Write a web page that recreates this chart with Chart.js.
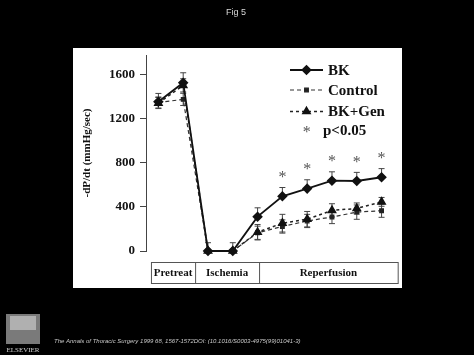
<!DOCTYPE html>
<html>
<head>
<meta charset="utf-8">
<script src="https://cdn.jsdelivr.net/npm/chart.js@4.4.1/dist/chart.umd.min.js"></script>
<style>
  html, body { margin: 0; padding: 0; background: #000; }
  #wrap { width: 474px; height: 355px; position: relative; }
</style>
</head>
<body>
<div id="wrap"><canvas id="c" width="474" height="355"></canvas></div>
<script>
// ---- data ----
const timePoints = [0, 1, 2, 3, 4, 5, 6, 7, 8, 9];
const bkValues      = [1352, 1524, 0, 0, 311, 495, 565, 637, 634, 668];
const bkErrors      = [75, 90, 0, 0, 80, 80, 80, 80, 78, 78];
const controlValues = [1345, 1373, 0, 0, 165, 222, 272, 308, 352, 365];
const controlErrors = [50, 55, 75, 75, 60, 60, 60, 60, 65, 60];
const genValues     = [1340, 1500, 0, 0, 170, 252, 288, 368, 385, 445];
const genErrors     = [50, 60, 0, 0, 70, 80, 70, 60, 50, 40];
const significant   = [false, false, false, false, false, true, true, true, true, true];
const yTicks = [0, 400, 800, 1200, 1600];
const phaseLabels = ['Pretreat', 'Ischemia', 'Reperfusion'];
const phaseBounds = [-0.3, 1.48, 4.06, 9.65];
const seriesNames = ['BK', 'Control', 'BK+Gen'];

const toXY = (vals) => vals.map((v, i) => ({ x: timePoints[i], y: v }));
const serif = '"Liberation Serif", "DejaVu Serif", serif';

const errorSets = [bkErrors, controlErrors, genErrors];
const errorDir  = ['up', 'both', 'both'];

const decor = {
  id: 'decor',
  beforeDraw(chart) {
    const ctx = chart.ctx;
    ctx.save();
    ctx.fillStyle = '#000';
    ctx.fillRect(0, 0, chart.width, chart.height);
    ctx.fillStyle = '#fff';
    ctx.fillRect(73, 48, 329, 240);
    // header
    ctx.fillStyle = '#d8d8d8';
    ctx.font = '9px "Liberation Sans", Arial, sans-serif';
    ctx.textAlign = 'center';
    ctx.textBaseline = 'middle';
    ctx.fillText('Fig 5', 236, 13);
    // footer logo
    ctx.fillStyle = '#7a7a7a';
    ctx.fillRect(6, 314, 34, 30);
    ctx.fillStyle = '#b0b0b0';
    ctx.fillRect(10, 316, 26, 14);
    ctx.fillStyle = '#d0d0d0';
    ctx.font = '7px "Liberation Serif", serif';
    ctx.textAlign = 'center';
    ctx.fillText('ELSEVIER', 23, 350);
    ctx.fillStyle = '#c8c8c8';
    ctx.font = 'italic 6px "Liberation Sans", Arial, sans-serif';
    ctx.textAlign = 'left';
    ctx.fillText('The Annals of Thoracic Surgery 1999 68, 1567-1572DOI: (10.1016/S0003-4975(99)01041-3)', 54, 341);
    ctx.restore();
  },
  beforeDatasetsDraw(chart) {
    const ctx = chart.ctx;
    const xs = chart.scales.x, ys = chart.scales.y;
    ctx.save();
    ctx.strokeStyle = '#444';
    ctx.lineWidth = 1;
    chart.data.datasets.forEach((ds, d) => {
      const errs = errorSets[d];
      ds.data.forEach((p, i) => {
        const e = errs[i];
        if (!e) return;
        const x = xs.getPixelForValue(p.x);
        const y0 = ys.getPixelForValue(p.y);
        const yt = ys.getPixelForValue(p.y + e);
        const yb = ys.getPixelForValue(Math.max(p.y - e, 0));
        ctx.beginPath();
        ctx.moveTo(x, yt); ctx.lineTo(x, errorDir[d] === 'both' ? yb : y0);
        ctx.moveTo(x - 3, yt); ctx.lineTo(x + 3, yt);
        if (errorDir[d] === 'both' && p.y - e > 0) { ctx.moveTo(x - 3, yb); ctx.lineTo(x + 3, yb); }
        ctx.stroke();
      });
    });
    ctx.restore();
  },
  afterDatasetsDraw(chart) {
    const ctx = chart.ctx;
    const xs = chart.scales.x, ys = chart.scales.y;
    ctx.save();
    // significance stars
    ctx.fillStyle = '#555';
    ctx.font = '16px ' + serif;
    ctx.textAlign = 'center';
    ctx.textBaseline = 'middle';
    significant.forEach((s, i) => {
      if (!s) return;
      const x = xs.getPixelForValue(timePoints[i]);
      const y = ys.getPixelForValue(bkValues[i] + bkErrors[i]) - 10;
      ctx.fillText('*', x, y);
    });
    // phase box
    const top = ys.bottom + 11, bot = ys.bottom + 32;
    const bx = phaseBounds.map(v => xs.getPixelForValue(v));
    ctx.strokeStyle = '#555';
    ctx.lineWidth = 1;
    ctx.strokeRect(bx[0] + 0.5, top + 0.5, bx[3] - bx[0], bot - top);
    ctx.beginPath();
    ctx.moveTo(bx[1] + 0.5, top); ctx.lineTo(bx[1] + 0.5, bot);
    ctx.moveTo(bx[2] + 0.5, top); ctx.lineTo(bx[2] + 0.5, bot);
    ctx.stroke();
    ctx.fillStyle = '#111';
    ctx.font = 'bold 11px ' + serif;
    phaseLabels.forEach((t, k) => {
      ctx.fillText(t, (bx[k] + bx[k + 1]) / 2, (top + bot) / 2 + 1);
    });
    // legend
    const rows = [70, 90, 111.5];
    chart.data.datasets.forEach((ds, d) => {
      const y = rows[d];
      ctx.save();
      ctx.strokeStyle = ds.borderColor;
      ctx.lineWidth = ds.borderWidth;
      ctx.setLineDash(ds.borderDash || []);
      ctx.beginPath();
      ctx.moveTo(290, y); ctx.lineTo(323, y);
      ctx.stroke();
      ctx.setLineDash([]);
      ctx.fillStyle = ds.pointBackgroundColor;
      ctx.strokeStyle = ds.pointBackgroundColor;
      Chart.helpers.drawPoint(ctx, { pointStyle: ds.pointStyle, radius: ds.pointRadius, borderWidth: 1, rotation: 0 }, 306.5, y);
      ctx.restore();
      ctx.fillStyle = '#111';
      ctx.font = 'bold 15px ' + serif;
      ctx.textAlign = 'left';
      ctx.textBaseline = 'middle';
      ctx.fillText(seriesNames[d], 328, y + 1);
    });
    ctx.fillStyle = '#555';
    ctx.font = '16px ' + serif;
    ctx.textAlign = 'center';
    ctx.fillText('*', 306.7, 133);
    ctx.fillStyle = '#111';
    ctx.font = 'bold 15px ' + serif;
    ctx.textAlign = 'left';
    ctx.fillText('p<0.05', 323, 131);
    ctx.restore();
  }
};

new Chart(document.getElementById('c'), {
  type: 'line',
  data: {
    datasets: [
      {
        label: seriesNames[0], data: toXY(bkValues),
        borderColor: '#111', borderWidth: 1.8,
        pointStyle: 'rectRot', pointRadius: 4, pointBackgroundColor: '#111', pointBorderColor: '#111',
        clip: false, order: 0
      },
      {
        label: seriesNames[1], data: toXY(controlValues),
        borderColor: '#333', borderWidth: 1.2, borderDash: [4, 3],
        pointStyle: 'rect', pointRadius: 2.6, pointBackgroundColor: '#222', pointBorderColor: '#222',
        clip: false, order: 2
      },
      {
        label: seriesNames[2], data: toXY(genValues),
        borderColor: '#222', borderWidth: 1.5, borderDash: [3, 3],
        pointStyle: 'triangle', pointRadius: 4.2, pointBackgroundColor: '#111', pointBorderColor: '#111',
        clip: false, order: 1
      }
    ]
  },
  options: {
    responsive: false,
    animation: false,
    events: [],
    layout: { padding: { left: 73, top: 55, right: 72.6, bottom: 104 } },
    plugins: { legend: { display: false }, tooltip: { enabled: false } },
    scales: {
      x: { type: 'linear', min: -0.5, max: 9.8, display: false },
      y: {
        type: 'linear', min: 0, max: 1775,
        afterBuildTicks: (s) => { s.ticks = yTicks.map(v => ({ value: v })); },
        afterFit: (s) => { s.width = 73; },
        border: { display: true, color: '#444', width: 1 },
        grid: { drawOnChartArea: false, drawTicks: true, tickLength: 6, color: '#444' },
        ticks: {
          color: '#111', font: { family: serif, size: 13, weight: 'bold' }, padding: 5,
          callback: (v) => String(v)
        },
        title: {
          display: true, text: '-dP/dt (mmHg/sec)', color: '#111',
          font: { family: serif, size: 11, weight: 'bold' }, padding: { top: 8, bottom: 0 }
        }
      }
    }
  },
  plugins: [decor]
});
</script>
</body>
</html>
